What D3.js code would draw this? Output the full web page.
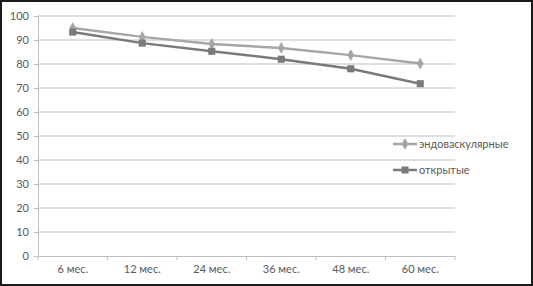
<!DOCTYPE html>
<html>
<head>
<meta charset="utf-8">
<script src="https://cdn.jsdelivr.net/npm/d3@7"></script>
<style>
  body { margin: 0; background: #fff; }
  text { font-family: Lato, "Open Sans", sans-serif; font-size: 11px; fill: #595959; }
</style>
</head>
<body>
<div id="chart"></div>
<script>
const categories = ["6 мес.", "12 мес.", "24 мес.", "36 мес.", "48 мес.", "60 мес."];
const endovascular = [95, 91.3, 88.3, 86.7, 83.7, 80.2];
const open = [93.3, 88.7, 85.3, 82, 78, 71.8];
const yTicks = [0, 10, 20, 30, 40, 50, 60, 70, 80, 90, 100];

const width = 533, height = 286;
const svg = d3.select("#chart").append("svg")
    .attr("width", width)
    .attr("height", height);

svg.append("rect")
    .attr("x", 1).attr("y", 1)
    .attr("width", width - 2).attr("height", height - 2)
    .attr("fill", "#fff")
    .attr("stroke", "#1a1a1a")
    .attr("stroke-width", 2);

const x = d3.scaleBand().domain(categories).range([38, 455]);
const y = d3.scaleLinear().domain([0, 100]).range([256, 16]);

// gridlines
svg.append("g").selectAll("line")
    .data(yTicks.filter(d => d > 0))
    .enter().append("line")
    .attr("x1", 38).attr("x2", 455)
    .attr("y1", d => y(d)).attr("y2", d => y(d))
    .attr("stroke", "#bfbfbf")
    .attr("stroke-width", 1.2);

// y axis
const yAxis = svg.append("g")
    .attr("transform", "translate(38,0)")
    .call(d3.axisLeft(y).tickValues(yTicks).tickSize(4).tickPadding(5));
yAxis.select(".domain").attr("stroke", "#bfbfbf");
yAxis.selectAll(".tick line").attr("stroke", "#bfbfbf");

// x axis
const xAxis = svg.append("g")
    .attr("transform", "translate(0,256)")
    .call(d3.axisBottom(x).tickSize(0).tickPadding(9));
xAxis.select(".domain").attr("stroke", "#bfbfbf").attr("stroke-width", 1.2);
xAxis.selectAll(".tick text").attr("font-size", "10px");
// category separators
svg.append("g").selectAll("line")
    .data(d3.range(categories.length + 1))
    .enter().append("line")
    .attr("x1", i => 38 + i * x.bandwidth())
    .attr("x2", i => 38 + i * x.bandwidth())
    .attr("y1", 256).attr("y2", 260)
    .attr("stroke", "#bfbfbf");

const cx = (d, i) => x(categories[i]) + x.bandwidth() / 2;
const line = d3.line().x((d, i) => cx(d, i)).y(d => y(d));

const series = [
    { name: "эндоваскулярные", values: endovascular, color: "#a6a6a6", symbol: d3.symbolDiamond, size: 40 },
    { name: "открытые", values: open, color: "#7a7a7a", symbol: d3.symbolSquare, size: 50 }
];

series.forEach(s => {
    svg.append("path")
        .datum(s.values)
        .attr("d", line)
        .attr("fill", "none")
        .attr("stroke", s.color)
        .attr("stroke-width", 2.5);
    svg.append("g").selectAll("path")
        .data(s.values)
        .enter().append("path")
        .attr("transform", (d, i) => `translate(${cx(d, i)},${y(d)})`)
        .attr("d", d3.symbol().type(s.symbol).size(s.size))
        .attr("fill", s.color);
});

// legend
const legend = svg.append("g").attr("transform", "translate(393,144)");
const items = legend.selectAll("g")
    .data(series)
    .enter().append("g")
    .attr("transform", (d, i) => `translate(0,${i * 26})`);
items.append("line")
    .attr("x1", 0).attr("x2", 24)
    .attr("stroke", d => d.color)
    .attr("stroke-width", 2.5);
items.append("path")
    .attr("transform", "translate(12,0)")
    .attr("d", d => d3.symbol().type(d.symbol).size(d.size)())
    .attr("fill", d => d.color);
items.append("text")
    .attr("x", 26)
    .attr("dy", "0.35em")
    .attr("font-size", "10px")
    .text(d => d.name);
</script>
</body>
</html>
